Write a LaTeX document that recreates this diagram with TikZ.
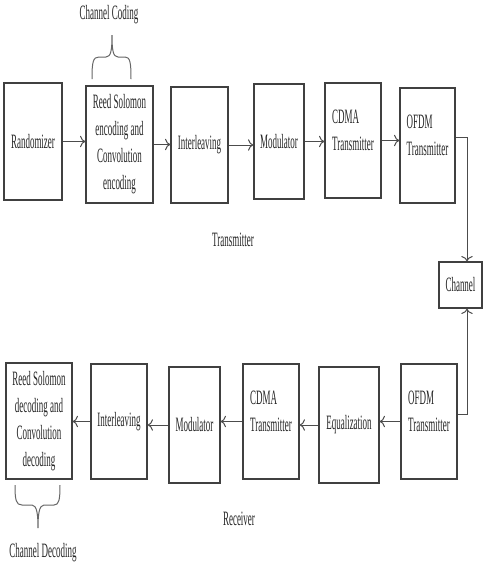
\documentclass[tikz,border=0pt]{standalone}
\usepackage{fontspec}
\setmainfont[FakeStretch=0.44]{Liberation Serif}
\usepackage{tikz}
\usetikzlibrary{arrows.meta}

\begin{document}
\begin{tikzpicture}[x=0.5pt, y=-0.5pt, >=To,
    blk/.style 2 args={draw=black!75, line width=0.6pt, inner sep=1pt, align=center,
        minimum width=#1, minimum height=#2,
        font=\fontsize{10.2}{13.5}\selectfont, text=black!85},
    lbl/.style={font=\fontsize{10.2}{12}\selectfont, text=black!85},
    wire/.style={->, black!70, line width=0.5pt},
    brc/.style={black!60, line width=0.5pt}]

    % Fix the page to the size of the reference
    \useasboundingbox (0,0) rectangle (483,569);

    % Transmitter chain
    \node[blk={29pt}{58.5pt}] (rand) at (33,141.5) {Randomizer};
    \node[blk={33.5pt}{58.5pt}] (rsenc) at (119.5,144.5) {Reed Solomon\\encoding and\\Convolution\\encoding};
    \node[blk={28.5pt}{58pt}] (intl) at (199.5,145) {Interleaving};
    \node[blk={25pt}{57.5pt}] (mod) at (279,141.5) {Modulator};
    \node[blk={28pt}{57.5pt}, align=left] (cdmatx) at (353,140.5) {CDMA\\Transmitter\\[-3.5pt]\mbox{}};
    \node[blk={27.5pt}{57.5pt}, align=left] (ofdmtx) at (427.5,145.5) {OFDM\\Transmitter\\[-3.5pt]\mbox{}};

    % Channel
    \node[blk={21.5pt}{23pt}] (chan) at (460.5,285) {Channel};

    % Receiver chain
    \node[blk={28pt}{57.5pt}, align=left] (ofdmrx) at (429,421.5) {OFDM\\Transmitter\\[-3.5pt]\mbox{}};
    \node[blk={30pt}{58pt}] (equal) at (349,425) {Equalization};
    \node[blk={28pt}{57.5pt}, align=left] (cdmarx) at (271,421.5) {CDMA\\Transmitter\\[-3.5pt]\mbox{}};
    \node[blk={25.5pt}{58pt}] (modrx) at (194.5,425) {Modulator};
    \node[blk={28pt}{57.5pt}] (intlrx) at (119,421.5) {Interleaving};
    \node[blk={33pt}{58pt}] (rsdec) at (39,421) {Reed Solomon\\decoding and\\Convolution\\decoding};

    % Forward arrows
    \draw[wire] (rand.east) -- (rand.east -| rsenc.west);
    \draw[wire] (rsenc.east) -- (rsenc.east -| intl.west);
    \draw[wire] (intl.east) -- (intl.east -| mod.west);
    \draw[wire] (mod.east) -- (mod.east -| cdmatx.west);
    \draw[wire] (cdmatx.east) -- (cdmatx.east -| ofdmtx.west);

    % Into and out of the channel
    \coordinate (txout) at (467,137);
    \coordinate (rxin) at (467,414);
    \draw[wire] (ofdmtx.east |- txout) -- (txout) -- (txout |- chan.north);
    \draw[wire] (ofdmrx.east |- rxin) -- (rxin) -- (rxin |- chan.south);

    % Backward arrows
    \draw[wire] (ofdmrx.west) -- (ofdmrx.west -| equal.east);
    \draw[wire] (equal.west) -- (equal.west -| cdmarx.east);
    \draw[wire] (cdmarx.west) -- (cdmarx.west -| modrx.east);
    \draw[wire] (modrx.west) -- (modrx.west -| intlrx.east);
    \draw[wire] (intlrx.west) -- (intlrx.west -| rsdec.east);

    % Braces
    \draw[brc] (92,79) .. controls (92,62) and (93,57) .. (99,57) -- (106,57)
        .. controls (111,57) and (112,50) .. (112,35)
        .. controls (112,50) and (113,57) .. (118,57) -- (125,57)
        .. controls (130,57) and (131,62) .. (131,79);
    \draw[brc] (15,485) .. controls (15,500) and (16,505) .. (22,505) -- (32,505)
        .. controls (37,505) and (38,515) .. (38,528)
        .. controls (38,515) and (39,505) .. (44,505) -- (54,505)
        .. controls (59,505) and (60,500) .. (60,485);

    % Labels
    \node[lbl] (coding) at (109,15) {Channel Coding};
    \node[lbl] (txlbl) at (233,240) {Transmitter};
    \node[lbl] (rxlbl) at (239,519) {Receiver};
    \node[lbl] (decoding) at (43,553) {Channel Decoding};
\end{tikzpicture}
\end{document}
